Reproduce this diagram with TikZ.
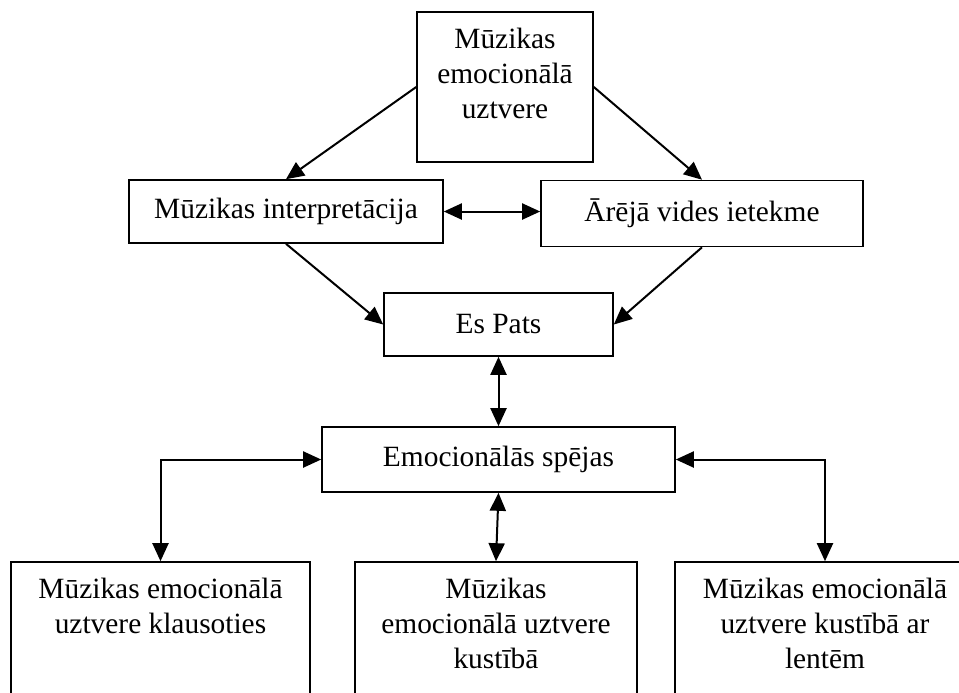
\documentclass[tikz,border=0pt]{standalone}
\usepackage{fontspec}
\setmainfont{Liberation Serif}
\usetikzlibrary{arrows.meta}
\newcommand{\toptext}[3]{\parbox[c][#2][t]{#1}{\centering\vspace*{8pt}#3}}

\begin{document}
\begin{tikzpicture}[x=0.5pt,y=-0.5pt,
    box/.style={draw,line width=0.8pt,inner sep=0pt,font=\fontsize{14.7pt}{17.5pt}\selectfont},
    link/.style={line width=1pt,-{Triangle[length=9pt,width=8pt]}},
    twoway/.style={line width=1pt,{Triangle[length=9pt,width=8pt]}-{Triangle[length=9pt,width=8pt]}}]
\useasboundingbox (0,0) rectangle (959,692);
\clip (0,0) rectangle (959,692);
% boxes
\node[box] (hub) at (505,87) {\toptext{88pt}{75pt}{Mūzikas\\emocionālā\\uztvere}};
\node[box,minimum width=157pt,minimum height=31.5pt] (interp) at (286,211.5) {Mūzikas interpretācija};
\node[box,minimum width=161pt,minimum height=33pt] (envir) at (702,213.5) {Ārējā vides ietekme};
\node[box,minimum width=114.5pt,minimum height=31.5pt] (espats) at (498.5,324.5) {Es Pats};
\node[box,minimum width=176.5pt,minimum height=32.5pt] (emoc) at (498.5,459.5) {Emocionālās spējas};
\node[box] (lbox) at (160.5,631) {\toptext{149.5pt}{69pt}{Mūzikas emocionālā\\uztvere klausoties}};
\node[box] (mbox) at (496,631) {\toptext{141pt}{69pt}{Mūzikas\\emocionālā uztvere\\kustībā}};
\node[box] (rbox) at (825,631) {\toptext{150pt}{69pt}{Mūzikas emocionālā\\uztvere kustībā ar\\lentēm}};
% arrows
\draw[link] (hub.west) -- (interp.north);
\draw[link] (hub.east) -- (envir.north);
\draw[twoway] (interp.east) -- (interp.east -| envir.west);
\draw[link] (interp.south) -- (espats.west);
\draw[link] (envir.south) -- (espats.east);
\draw[twoway] (espats.south) -- (emoc.north);
\draw[twoway] (emoc.west) -| (lbox.north);
\draw[twoway] (emoc.south) -- (mbox.north);
\draw[twoway] (emoc.east) -| (rbox.north);
\end{tikzpicture}
\end{document}
